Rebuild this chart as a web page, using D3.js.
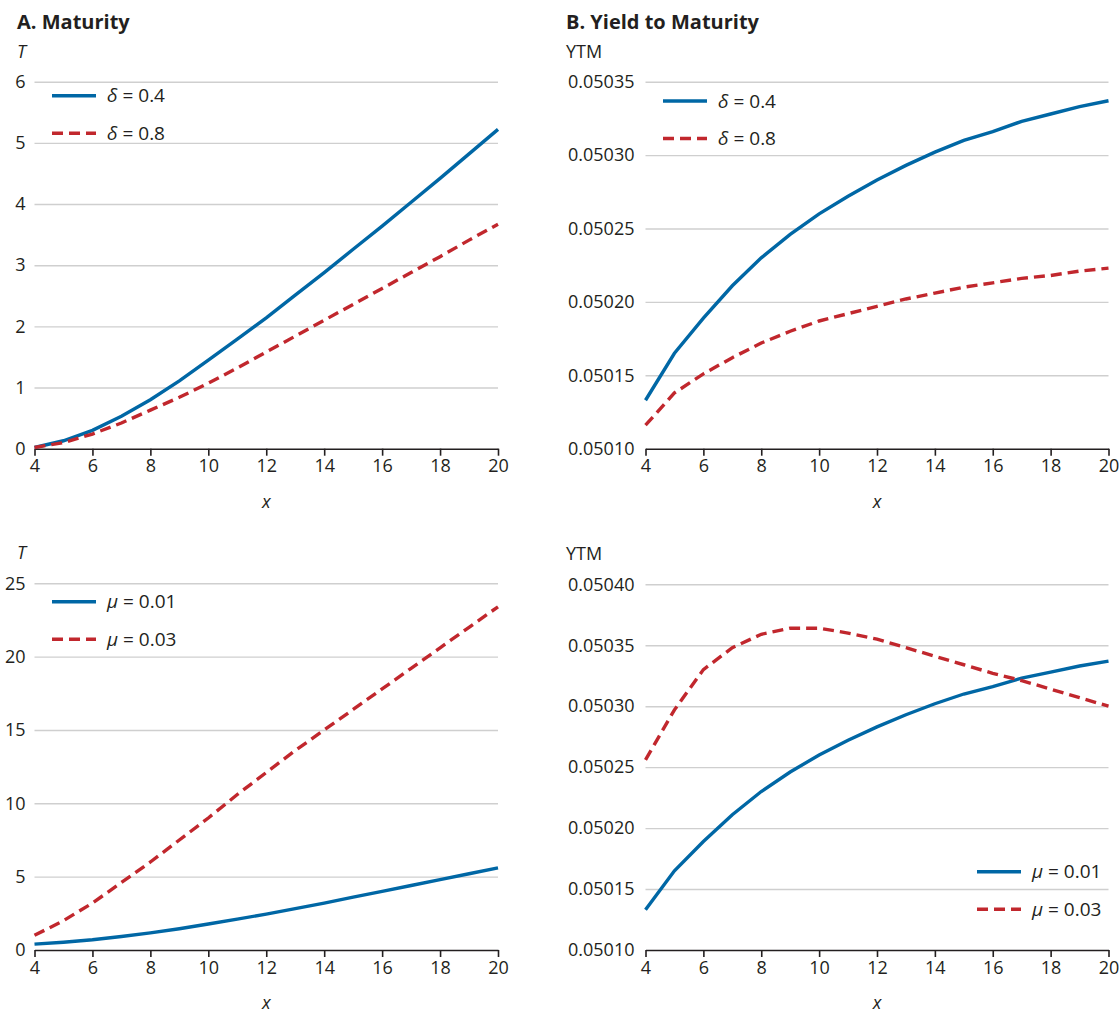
<!DOCTYPE html>
<html>
<head>
<meta charset="utf-8">
<script src="https://cdn.jsdelivr.net/npm/d3@7"></script>
<style>
  body { margin: 0; background: #fff; }
  svg text { font-family: "Open Sans", sans-serif; fill: #231f20; }
</style>
</head>
<body>
<div id="chart"></div>
<script>
// x grid shared by all panels
const xValues = [4, 5, 6, 7, 8, 9, 10, 11, 12, 13, 14, 15, 16, 17, 18, 19, 20];
const xTicks = [4, 6, 8, 10, 12, 14, 16, 18, 20];

// Panel A (top): maturity T for two deltas
const maturityDelta04 = [0.02, 0.13, 0.30, 0.53, 0.80, 1.11, 1.45, 1.79, 2.14, 2.51, 2.88, 3.26, 3.64, 4.03, 4.42, 4.82, 5.22];
const maturityDelta08 = [0.02, 0.10, 0.24, 0.42, 0.63, 0.84, 1.07, 1.32, 1.58, 1.84, 2.10, 2.36, 2.62, 2.88, 3.14, 3.41, 3.67];
const maturityTicksTop = [0, 1, 2, 3, 4, 5, 6];

// Panel B (top): yield to maturity for two deltas
const ytmDelta04 = [0.050133, 0.050165, 0.050189, 0.050211, 0.050230, 0.050246, 0.050260, 0.050272, 0.050283, 0.050293, 0.050302, 0.050310, 0.050316, 0.050323, 0.050328, 0.050333, 0.050337];
const ytmDelta08 = [0.050116, 0.050138, 0.050151, 0.050162, 0.050172, 0.050180, 0.050187, 0.050192, 0.050197, 0.050202, 0.050206, 0.050210, 0.050213, 0.050216, 0.050218, 0.050221, 0.050223];
const ytmTicksTop = [0.05010, 0.05015, 0.05020, 0.05025, 0.05030, 0.05035];

// Bottom row: two mus
const maturityMu001 = [0.40, 0.53, 0.70, 0.92, 1.17, 1.45, 1.77, 2.10, 2.45, 2.82, 3.20, 3.60, 4.00, 4.40, 4.80, 5.20, 5.60];
const maturityMu003 = [1.0, 2.0, 3.2, 4.6, 6.0, 7.5, 9.0, 10.6, 12.1, 13.6, 15.0, 16.4, 17.8, 19.2, 20.6, 22.0, 23.4];
const maturityTicksBottom = [0, 5, 10, 15, 20, 25];

const ytmMu001 = [0.050133, 0.050165, 0.050189, 0.050211, 0.050230, 0.050246, 0.050260, 0.050272, 0.050283, 0.050293, 0.050302, 0.050310, 0.050316, 0.050323, 0.050328, 0.050333, 0.050337];
const ytmMu003 = [0.050256, 0.050297, 0.050330, 0.050348, 0.050359, 0.050364, 0.050364, 0.050360, 0.050355, 0.050348, 0.050341, 0.050334, 0.050327, 0.050321, 0.050314, 0.050307, 0.050300];
const ytmTicksBottom = [0.05010, 0.05015, 0.05020, 0.05025, 0.05030, 0.05035, 0.05040];

const blue = "#0067a5";
const red = "#c1272d";

const svg = d3.select("#chart")
    .append("svg")
    .attr("width", 1120)
    .attr("height", 1015);

// Draw one panel: gridlines, x axis, two lines, labels and legend
function drawPanel(p) {
    const g = svg.append("g");

    const x = d3.scaleLinear().domain([4, 20]).range([p.left, p.right]);
    const y = d3.scaleLinear().domain(d3.extent(p.yTicks)).range([p.bottom, p.top]);

    // y gridlines + tick labels
    const yAxis = g.append("g")
        .attr("transform", `translate(${p.left},0)`)
        .call(d3.axisLeft(y).tickValues(p.yTicks).tickFormat(p.fmt)
            .tickSize(-(p.right - p.left)).tickPadding(p.pad));
    yAxis.select(".domain").remove();
    yAxis.selectAll(".tick line")
        .attr("stroke", "#cfcfcf")
        .attr("stroke-width", 1.4)
        .filter(d => d === p.yTicks[0]).remove();
    yAxis.selectAll(".tick text")
        .style("font-size", "18px")
        .attr("fill", "#231f20");

    // x axis
    const xAxis = g.append("g")
        .attr("transform", `translate(0,${p.bottom})`)
        .call(d3.axisBottom(x).tickValues(xTicks).tickSize(7).tickPadding(4).tickSizeOuter(0));
    xAxis.select(".domain").attr("stroke", "#231f20").attr("stroke-width", 1.6);
    xAxis.selectAll(".tick line").attr("stroke", "#231f20").attr("stroke-width", 1.6);
    xAxis.selectAll(".tick text")
        .style("font-size", "18px")
        .attr("fill", "#231f20");

    // axis titles
    g.append("text")
        .attr("x", (p.left + p.right) / 2)
        .attr("y", p.bottom + 59)
        .attr("text-anchor", "middle")
        .style("font-size", "18px")
        .style("font-style", "italic")
        .text("x");

    g.append("text")
        .attr("x", p.labelX)
        .attr("y", p.top - 24)
        .style("font-size", "18px")
        .style("font-style", p.yItalic ? "italic" : "normal")
        .text(p.yLabel);

    if (p.title) {
        g.append("text")
            .attr("x", p.labelX)
            .attr("y", p.top - 53)
            .style("font-size", "20px")
            .style("font-weight", "bold")
            .text(p.title);
    }

    // lines
    const line = d3.line()
        .x((d, i) => x(xValues[i]))
        .y(d => y(d));

    p.series.forEach(s => {
        g.append("path")
            .datum(s.values)
            .attr("fill", "none")
            .attr("stroke", s.color)
            .attr("stroke-width", 3.4)
            .attr("stroke-dasharray", s.dashed ? "11,6" : null)
            .attr("d", line);
    });

    // legend
    p.series.forEach((s, i) => {
        const ly = p.legY + i * 37.5;
        g.append("line")
            .attr("x1", p.legX)
            .attr("x2", p.legX + 44)
            .attr("y1", ly)
            .attr("y2", ly)
            .attr("stroke", s.color)
            .attr("stroke-width", 3.4)
            .attr("stroke-dasharray", s.dashed ? "11,6" : null);
        const t = g.append("text")
            .attr("x", p.legX + 55)
            .attr("y", ly + 6.5)
            .style("font-size", "19px");
        t.append("tspan").style("font-style", "italic").text(s.sym);
        t.append("tspan").text(" = " + s.val);
    });
}

const fmt0 = d3.format("d");
const fmt5 = d3.format(".5f");

drawPanel({
    left: 34.5, right: 498, top: 81.7, bottom: 448.7,
    yTicks: maturityTicksTop, fmt: fmt0, pad: 9,
    labelX: 17, yLabel: "T", yItalic: true, title: "A. Maturity",
    legX: 52, legY: 95.7,
    series: [
        { values: maturityDelta04, color: blue, dashed: false, sym: "δ", val: "0.4" },
        { values: maturityDelta08, color: red, dashed: true, sym: "δ", val: "0.8" }
    ]
});

drawPanel({
    left: 645.5, right: 1108.5, top: 81.7, bottom: 448.7,
    yTicks: ytmTicksTop, fmt: fmt5, pad: 11,
    labelX: 566, yLabel: "YTM", yItalic: false, title: "B. Yield to Maturity",
    legX: 663, legY: 101,
    series: [
        { values: ytmDelta04, color: blue, dashed: false, sym: "δ", val: "0.4" },
        { values: ytmDelta08, color: red, dashed: true, sym: "δ", val: "0.8" }
    ]
});

drawPanel({
    left: 34.5, right: 498, top: 583.3, bottom: 950,
    yTicks: maturityTicksBottom, fmt: fmt0, pad: 9,
    labelX: 17, yLabel: "T", yItalic: true,
    legX: 52, legY: 601.7,
    series: [
        { values: maturityMu001, color: blue, dashed: false, sym: "μ", val: "0.01" },
        { values: maturityMu003, color: red, dashed: true, sym: "μ", val: "0.03" }
    ]
});

drawPanel({
    left: 645.5, right: 1108.5, top: 584.3, bottom: 950,
    yTicks: ytmTicksBottom, fmt: fmt5, pad: 11,
    labelX: 566, yLabel: "YTM", yItalic: false,
    legX: 977, legY: 871.7,
    series: [
        { values: ytmMu001, color: blue, dashed: false, sym: "μ", val: "0.01" },
        { values: ytmMu003, color: red, dashed: true, sym: "μ", val: "0.03" }
    ]
});
</script>
</body>
</html>
